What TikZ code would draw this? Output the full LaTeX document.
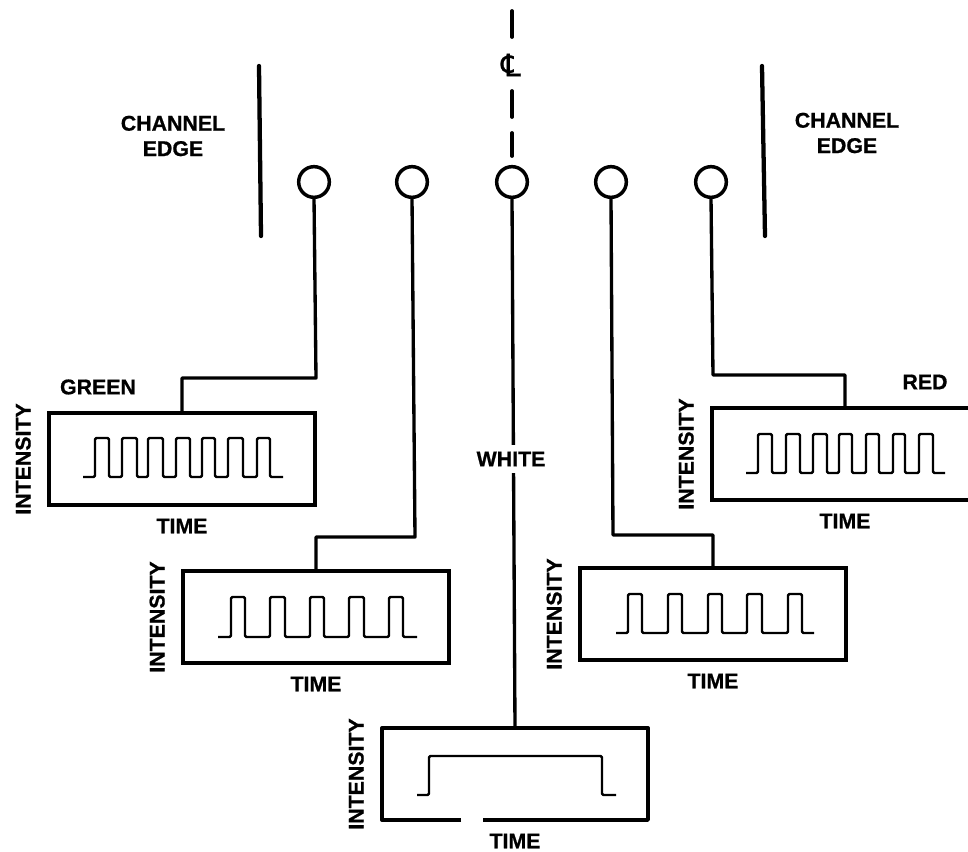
\documentclass[tikz,border=0pt]{standalone}
\usepackage{fontspec}
\setmainfont[BoldFeatures={FakeBold=0.8}]{Liberation Sans}
\newfontfamily\clfont[FakeBold=0.8]{DejaVu Sans}
\usetikzlibrary{positioning,calc}

\begin{document}
\begin{tikzpicture}[
    x=.75pt,y=-.75pt,
    lamp/.style={draw,circle,line width=2.6pt,minimum size=23pt,inner sep=0pt,outer sep=0pt},
    scopebox/.style={draw,line width=2.5pt,minimum width=199.5pt,minimum height=69pt,inner sep=0pt,outer sep=0pt},
    caption/.style={font=\fontsize{16}{19}\selectfont\bfseries,align=center,inner sep=0pt},
    timelabel/.style={caption,below=10pt of #1},
    intensity/.style={caption,rotate=90,left=13.5pt of #1,anchor=south},
    lead/.style={line width=2.5pt,line join=round},
    edgeline/.style={line width=3.2pt,line cap=round},
    trace/.style={line width=1.8pt,rounded corners=1pt,line join=round}
  ]
    \clip (0,0) rectangle (968,852);

    \node[lamp] (lampG) at (314,182) {};
    \node[lamp] (lampB) at (412,182) {};
    \node[lamp] (lampW) at (512,182) {};
    \node[lamp] (lampP) at (611,182) {};
    \node[lamp] (lampR) at (711,182) {};

    \node[scopebox] (boxG) at (182,459) {};
    \node[scopebox] (boxB) at (316,617) {};
    \node[scopebox,draw=none] (boxW) at (515,774) {};
    \node[scopebox] (boxP) at (713,614) {};
    \node[scopebox] (boxR) at (845,454) {};

    \coordinate (gapL) at ($(boxW.south west)+(79,0)$);
    \coordinate (gapR) at ($(boxW.south west)+(101,0)$);
    \draw[lead] (gapL) -| (boxW.north west) -| (boxW.south east) -- (gapR);

    \coordinate (jogG) at (316,378);
    \coordinate (jogB) at (415,537);
    \coordinate (jogP) at (613,535);
    \coordinate (jogR) at (713,375);

    \draw[lead] (lampG.south) -- (jogG) -| (boxG.north);
    \draw[lead] (lampB.south) -- (jogB) -| (boxB.north);
    \draw[lead] (lampW.south) -- (boxW.north);
    \draw[lead] (lampP.south) -- (jogP) -| (boxP.north);
    \draw[lead] (lampR.south) -- (jogR) -| (boxR.north);

    \draw[edgeline] (259,66) -- (261,236);
    \draw[edgeline] (762,66) -- (765,236);
    \foreach \a/\b in {11/37,91/117,133/156}
      \draw[edgeline,line width=2.8pt] (512,\a) -- (512,\b);

    \draw[trace] (83,477) foreach \r/\f in {95/109,122/137,148/163,176/190,202/215,228/243,257/270}{ -- (\r,477) -- (\r,438) -- (\f,438) -- (\f,477)} -- (283,477);
    \draw[trace] (218,637) foreach \r/\f in {231/245,270/285,310/324,349/364,389/403}{ -- (\r,637) -- (\r,597) -- (\f,597) -- (\f,637)} -- (417,637);
    \draw[trace] (417,795) -- (429,795) -- (429,756) -- (602,756) -- (602,795) -- (616,795);
    \draw[trace] (616,633) foreach \r/\f in {628/642,668/682,708/722,747/762,788/802}{ -- (\r,633) -- (\r,594) -- (\f,594) -- (\f,633)} -- (814,633);
    \draw[trace] (746,473) foreach \r/\f in {758/772,786/800,813/827,839/852,866/879,893/905,919/933}{ -- (\r,473) -- (\r,434) -- (\f,434) -- (\f,473)} -- (945,473);

    \node[caption] (edgeL) at (173,136) {CHANNEL\\EDGE};
    \node[caption] (edgeR) at (847,133) {CHANNEL\\EDGE};
    \node[inner sep=0pt,font=\fontsize{23}{25}\selectfont\clfont] (centre) at (511,65) {℄};
    \node[caption] (green) at (98,387) {GREEN};
    \node[caption] (red) at (925,382) {RED};
    \node[caption,fill=white,inner ysep=5pt,inner xsep=1pt] (white) at (511,459) {WHITE};

    \node[timelabel=boxG] (timeG) {TIME};
    \node[timelabel=boxB] (timeB) {TIME};
    \node[timelabel=boxW] (timeW) {TIME};
    \node[timelabel=boxP] (timeP) {TIME};
    \node[timelabel=boxR] (timeR) {TIME};

    \node[intensity=boxG] (intG) {INTENSITY};
    \node[intensity=boxB] (intB) {INTENSITY};
    \node[intensity=boxW] (intW) {INTENSITY};
    \node[intensity=boxP] (intP) {INTENSITY};
    \node[intensity=boxR] (intR) {INTENSITY};
  \end{tikzpicture}
\end{document}
